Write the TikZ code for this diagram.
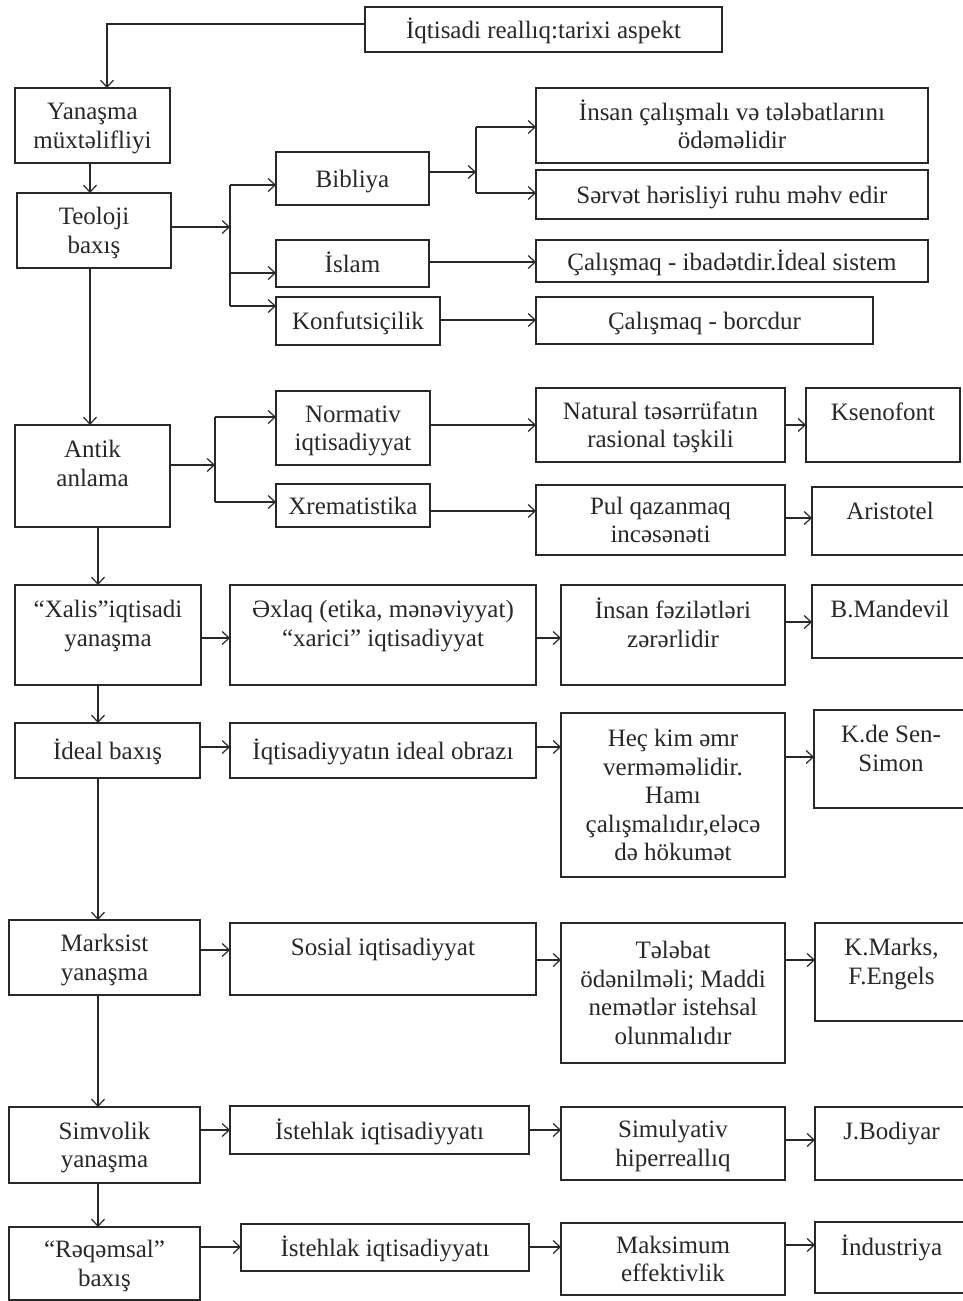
\documentclass[tikz,border=0pt]{standalone}
\usepackage{fontspec}
\setmainfont{Liberation Serif}
\usetikzlibrary{arrows.meta}
\definecolor{ink}{RGB}{40,40,40}
\tikzset{
  bxs/.style={draw=ink, line width=2pt, inner sep=0pt, outer sep=0pt, anchor=north west,
    text=ink, font=\fontsize{25pt}{28.5pt}\selectfont},
  con/.style={draw=ink, line width=1.3pt, -{Straight Barb[length=7pt,width=13pt,line width=1.2pt]}},
  ln/.style={draw=ink, line width=1.3pt}
}
\newcommand\bx[7]{\node[bxs] (#1) at (#2,#3)
  {\parbox[c][\dimexpr #5pt-#3pt\relax][#6]{\dimexpr #4pt-#2pt\relax}{\centering\ifx t#6\vspace*{13pt}\else\vspace*{6pt}\fi\strut #7\strut}};}
\begin{document}
\begin{tikzpicture}[x=1pt,y=-1pt]
\useasboundingbox (0,0) rectangle (963,1301);
\clip (0,0) rectangle (963,1301);
\fill[white] (0,0) rectangle (963,1301);
% boxes
\bx{top}{365}{7}{722}{52}{c}{İqtisadi reallıq:tarixi aspekt}
\bx{yan}{15}{88}{170}{163}{c}{Yanaşma\\müxtəlifliyi}
\bx{teo}{17}{193}{171}{268}{c}{Teoloji\\baxış}
\bx{bib}{276}{152}{429}{205}{c}{Bibliya}
\bx{isl}{276}{240}{429}{287}{c}{İslam}
\bx{kon}{276}{297}{440}{345}{c}{Konfutsiçilik}
\bx{ins}{536}{88}{928}{163}{c}{İnsan çalışmalı və tələbatlarını\\ödəməlidir}
\bx{ser}{536}{170}{928}{219}{c}{Sərvət hərisliyi ruhu məhv edir}
\bx{cal}{536}{240}{928}{282}{c}{Çalışmaq - ibadətdir.İdeal sistem}
\bx{bor}{536}{297}{873}{344}{c}{Çalışmaq - borcdur}
\bx{ant}{15}{425}{170}{527}{t}{Antik\\anlama}
\bx{nor}{276}{391}{430}{465}{c}{Normativ\\iqtisadiyyat}
\bx{xre}{276}{484}{430}{527}{c}{Xrematistika}
\bx{nat}{536}{388}{785}{462}{c}{Natural təsərrüfatın\\rasional təşkili}
\bx{kse}{806}{388}{960}{462}{t}{Ksenofont}
\bx{pul}{536}{485}{785}{555}{c}{Pul qazanmaq\\incəsənəti}
\bx{ari}{812}{487}{968}{555}{t}{Aristotel}
\bx{xal}{15}{585}{201}{685}{t}{“Xalis”iqtisadi\\yanaşma}
\bx{exl}{230}{585}{536}{685}{t}{Əxlaq (etika, mənəviyyat)\\“xarici” iqtisadiyyat}
\bx{fez}{561}{585}{785}{685}{t}{İnsan fəzilətləri\\zərərlidir}
\bx{man}{812}{585}{968}{658}{t}{B.Mandevil}
\bx{ide}{15}{723}{200}{778}{c}{İdeal baxış}
\bx{iqt}{230}{723}{536}{778}{c}{İqtisadiyyatın ideal obrazı}
\bx{hec}{561}{713}{785}{877}{c}{Heç kim əmr\\verməməlidir.\\Hamı\\çalışmalıdır,eləcə\\də hökumət}
\bx{sen}{814}{710}{968}{808}{t}{K.de Sen-\\Simon}
\bx{mar}{9}{920}{200}{995}{c}{Marksist\\yanaşma}
\bx{sos}{230}{923}{536}{995}{t}{Sosial iqtisadiyyat}
\bx{tal}{561}{923}{785}{1063}{c}{Tələbat\\ödənilməli; Maddi\\nemətlər istehsal\\olunmalıdır}
\bx{mrk}{815}{923}{968}{1021}{t}{K.Marks,\\F.Engels}
\bx{sim}{9}{1107}{200}{1183}{c}{Simvolik\\yanaşma}
\bx{is1}{230}{1106}{529}{1154}{c}{İstehlak iqtisadiyyatı}
\bx{smu}{561}{1107}{785}{1180}{c}{Simulyativ\\hiperreallıq}
\bx{bod}{815}{1107}{968}{1180}{t}{J.Bodiyar}
\bx{raq}{9}{1227}{200}{1300}{c}{“Rəqəmsal”\\baxış}
\bx{is2}{241}{1224}{529}{1271}{c}{İstehlak iqtisadiyyatı}
\bx{mak}{561}{1223}{785}{1295}{c}{Maksimum\\effektivlik}
\bx{ind}{815}{1222}{968}{1293}{t}{İndustriya}
% branch coordinates
\coordinate (b1) at (230,227);
\coordinate (b1t) at (230,185);
\coordinate (b1m) at (230,273);
\coordinate (b1b) at (230,306);
\coordinate (b2) at (476,172);
\coordinate (b2t) at (476,127);
\coordinate (b2b) at (476,193);
\coordinate (b3) at (215,465);
\coordinate (b3t) at (215,417);
\coordinate (b3b) at (215,502);
% connectors
\draw[con] (top.west |- 0,24) -| (yan.north -| 107,0);
\draw[con] (yan.south -| 90,0) -- (teo.north -| 90,0);
\draw[con] (teo.east |- b1) -- (b1);
\draw[ln] (b1t) -- (b1b);
\draw[con] (b1t) -- (bib.west |- b1t);
\draw[con] (b1m) -- (isl.west |- b1m);
\draw[con] (b1b) -- (kon.west |- b1b);
\draw[con] (bib.east |- b2) -- (b2);
\draw[ln] (b2t) -- (b2b);
\draw[con] (b2t) -- (ins.west |- b2t);
\draw[con] (b2b) -- (ser.west |- b2b);
\draw[con] (isl.east |- 0,262) -- (cal.west |- 0,262);
\draw[con] (kon.east |- 0,320) -- (bor.west |- 0,320);
\draw[con] (teo.south -| 90,0) -- (ant.north -| 90,0);
\draw[con] (ant.east |- b3) -- (b3);
\draw[ln] (b3t) -- (b3b);
\draw[con] (b3t) -- (nor.west |- b3t);
\draw[con] (b3b) -- (xre.west |- b3b);
\draw[con] (nor.east |- 0,425) -- (nat.west |- 0,425);
\draw[con] (nat.east |- 0,425) -- (kse.west |- 0,425);
\draw[con] (xre.east |- 0,511) -- (pul.west |- 0,511);
\draw[con] (pul.east |- 0,518) -- (ari.west |- 0,518);
\draw[con] (ant.south -| 98,0) -- (xal.north -| 98,0);
\draw[con] (xal.east |- 0,638) -- (exl.west |- 0,638);
\draw[con] (exl.east |- 0,638) -- (fez.west |- 0,638);
\draw[con] (fez.east |- 0,622) -- (man.west |- 0,622);
\draw[con] (xal.south -| 98,0) -- (ide.north -| 98,0);
\draw[con] (ide.east |- 0,747) -- (iqt.west |- 0,747);
\draw[con] (iqt.east |- 0,747) -- (hec.west |- 0,747);
\draw[con] (hec.east |- 0,757) -- (sen.west |- 0,757);
\draw[con] (ide.south -| 98,0) -- (mar.north -| 98,0);
\draw[con] (mar.east |- 0,950) -- (sos.west |- 0,950);
\draw[con] (sos.east |- 0,960) -- (tal.west |- 0,960);
\draw[con] (tal.east |- 0,960) -- (mrk.west |- 0,960);
\draw[con] (mar.south -| 98,0) -- (sim.north -| 98,0);
\draw[con] (sim.east |- 0,1130) -- (is1.west |- 0,1130);
\draw[con] (is1.east |- 0,1130) -- (smu.west |- 0,1130);
\draw[con] (smu.east |- 0,1140) -- (bod.west |- 0,1140);
\draw[con] (sim.south -| 98,0) -- (raq.north -| 98,0);
\draw[con] (raq.east |- 0,1247) -- (is2.west |- 0,1247);
\draw[con] (is2.east |- 0,1247) -- (mak.west |- 0,1247);
\draw[con] (mak.east |- 0,1245) -- (ind.west |- 0,1245);
\end{tikzpicture}
\end{document}
